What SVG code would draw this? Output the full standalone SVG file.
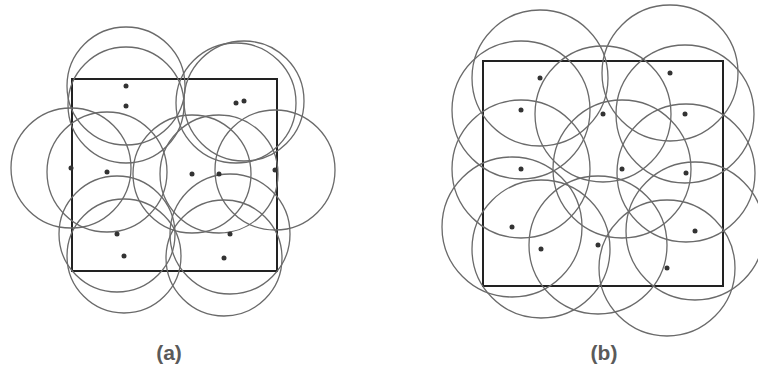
<svg xmlns="http://www.w3.org/2000/svg" width="758" height="371" viewBox="0 0 758 371">
<style>
.c{fill:none;stroke:#6a6a6a;stroke-width:1.3}
.sq{fill:none;stroke:#222;stroke-width:2}
.d{fill:#333}
.lbl{font-family:"Liberation Sans",Arial,sans-serif;font-weight:bold;font-size:21px;fill:#5a5a5a;text-anchor:middle}
</style>
<rect width="758" height="371" fill="#fff"/>
<g id="panel-a">
<rect class="sq" x="72" y="79" width="205" height="192"/>
<g class="c">
<circle cx="126" cy="86" r="59"/>
<circle cx="126" cy="105" r="58"/>
<circle cx="236" cy="103" r="60"/>
<circle cx="244" cy="101" r="60"/>
<circle cx="71" cy="168" r="60"/>
<circle cx="107" cy="172" r="60"/>
<circle cx="192" cy="174" r="59"/>
<circle cx="219" cy="174" r="59"/>
<circle cx="275" cy="170" r="60"/>
<circle cx="117" cy="234" r="58"/>
<circle cx="124" cy="256" r="57"/>
<circle cx="230" cy="234" r="60"/>
<circle cx="224" cy="258" r="58"/>
</g>
<g class="d">
<circle cx="126" cy="86" r="2.5"/>
<circle cx="126" cy="106" r="2.5"/>
<circle cx="236" cy="103" r="2.5"/>
<circle cx="244" cy="101" r="2.5"/>
<circle cx="71" cy="168" r="2.5"/>
<circle cx="107" cy="172" r="2.5"/>
<circle cx="192" cy="174" r="2.5"/>
<circle cx="219" cy="174" r="2.5"/>
<circle cx="275" cy="170" r="2.5"/>
<circle cx="117" cy="234" r="2.5"/>
<circle cx="124" cy="256" r="2.5"/>
<circle cx="230" cy="234" r="2.5"/>
<circle cx="224" cy="258" r="2.5"/>
</g>
<text class="lbl" x="169" y="360">(a)</text>
</g>
<g id="panel-b">
<rect class="sq" x="483" y="61" width="240" height="225"/>
<g class="c">
<circle cx="540" cy="78" r="68"/>
<circle cx="521" cy="110" r="69"/>
<circle cx="521" cy="169" r="69"/>
<circle cx="670" cy="73" r="68"/>
<circle cx="603" cy="114" r="68"/>
<circle cx="685" cy="114" r="69"/>
<circle cx="622" cy="169" r="69"/>
<circle cx="686" cy="173" r="69"/>
<circle cx="512" cy="227" r="70"/>
<circle cx="541" cy="249" r="69"/>
<circle cx="598" cy="245" r="69"/>
<circle cx="695" cy="231" r="69"/>
<circle cx="667" cy="268" r="68"/>
</g>
<g class="d">
<circle cx="540" cy="78" r="2.5"/>
<circle cx="521" cy="110" r="2.5"/>
<circle cx="521" cy="169" r="2.5"/>
<circle cx="670" cy="73" r="2.5"/>
<circle cx="603" cy="114" r="2.5"/>
<circle cx="685" cy="114" r="2.5"/>
<circle cx="622" cy="169" r="2.5"/>
<circle cx="686" cy="173" r="2.5"/>
<circle cx="512" cy="227" r="2.5"/>
<circle cx="541" cy="249" r="2.5"/>
<circle cx="598" cy="245" r="2.5"/>
<circle cx="695" cy="231" r="2.5"/>
<circle cx="667" cy="268" r="2.5"/>
</g>
<text class="lbl" x="604" y="360">(b)</text>
</g>
</svg>
